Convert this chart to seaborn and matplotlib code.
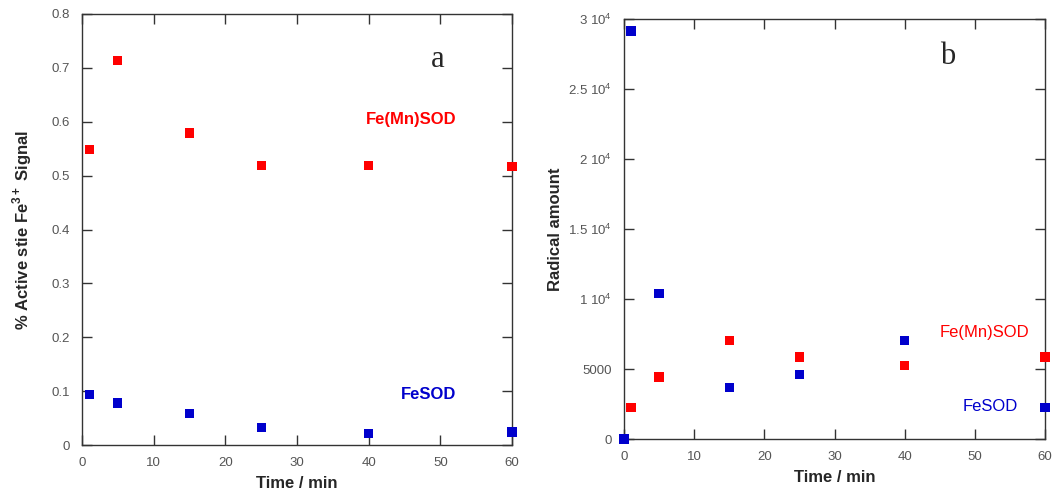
import numpy as np
import pandas as pd
import matplotlib
matplotlib.use("Agg")
import matplotlib.pyplot as plt
from matplotlib.ticker import FixedLocator, FixedFormatter
import seaborn as sns

# Panel a: active-site Fe3+ EPR signal vs time
time_a = [1, 5, 15, 25, 40, 60]
fe_mn_sod_a = [0.548, 0.714, 0.579, 0.519, 0.519, 0.517]
fe_sod_a = [0.094, 0.078, 0.058, 0.033, 0.022, 0.024]

# Panel b: radical amount vs time
time_b_fe = [0, 1, 5, 15, 25, 40, 60]
fe_sod_b = [0, 29150, 10420, 3660, 4590, 7040, 2240]
time_b_femn = [1, 5, 15, 25, 40, 60]
fe_mn_sod_b = [2240, 4430, 7040, 5850, 5260, 5850]

x_ticks = [0, 10, 20, 30, 40, 50, 60]
y_ticks_a = [0, 0.1, 0.2, 0.3, 0.4, 0.5, 0.6, 0.7, 0.8]
y_ticks_b = [0, 5000, 10000, 15000, 20000, 25000, 30000]
y_labels_b = ["0", "5000", "1 10$^{4}$", "1.5 10$^{4}$", "2 10$^{4}$",
              "2.5 10$^{4}$", "3 10$^{4}$"]

RED = "#ff0000"
BLUE = "#0000cc"

sns.set_theme(style="white")
plt.rcParams["font.family"] = ["Liberation Sans", "DejaVu Sans"]
plt.rcParams["mathtext.fontset"] = "custom"
plt.rcParams["mathtext.rm"] = "Liberation Sans"
plt.rcParams["mathtext.bf"] = "Liberation Sans:bold"

fig = plt.figure(figsize=(10.57, 4.92), dpi=100)
ax_a = fig.add_axes([82 / 1057, 47 / 492, 430 / 1057, 431 / 492])
ax_b = fig.add_axes([624 / 1057, 53 / 492, 421 / 1057, 420 / 492])

df_a = pd.concat([
    pd.DataFrame({"time": time_a, "value": fe_mn_sod_a, "enzyme": "Fe(Mn)SOD"}),
    pd.DataFrame({"time": time_a, "value": fe_sod_a, "enzyme": "FeSOD"}),
])
df_b = pd.concat([
    pd.DataFrame({"time": time_b_femn, "value": fe_mn_sod_b, "enzyme": "Fe(Mn)SOD"}),
    pd.DataFrame({"time": time_b_fe, "value": fe_sod_b, "enzyme": "FeSOD"}),
])
palette = {"Fe(Mn)SOD": RED, "FeSOD": BLUE}

for ax, df in ((ax_a, df_a), (ax_b, df_b)):
    sns.scatterplot(data=df, x="time", y="value", hue="enzyme", palette=palette,
                    marker="s", s=44, linewidth=0, legend=False, ax=ax,
                    clip_on=False, zorder=3)

tick_color = "#555555"
spine_color = "#333333"
for ax in (ax_a, ax_b):
    ax.set_xlim(0, 60)
    ax.xaxis.set_major_locator(FixedLocator(x_ticks))
    ax.tick_params(direction="in", length=7, width=1, color=spine_color,
                   top=True, right=True, bottom=True, left=True,
                   labelsize=9.5, labelcolor=tick_color, pad=9)
    for sp in ax.spines.values():
        sp.set_color(spine_color)
        sp.set_linewidth(1.0)
    ax.set_xlabel("Time / min", fontsize=12, fontweight="bold", labelpad=5)

ax_a.set_ylim(0, 0.8)
ax_a.yaxis.set_major_locator(FixedLocator(y_ticks_a))
ax_a.yaxis.set_major_formatter(FixedFormatter(["0"] + [f"{v:.1f}" for v in y_ticks_a[1:]]))
ax_a.set_ylabel("% Active stie Fe$^{\\mathbf{3+}}$ Signal", fontsize=12,
                fontweight="bold", labelpad=12)

ax_b.set_ylim(0, 30000)
ax_b.yaxis.set_major_locator(FixedLocator(y_ticks_b))
ax_b.yaxis.set_major_formatter(FixedFormatter(y_labels_b))
ax_b.set_ylabel("Radical amount", fontsize=12, fontweight="bold", labelpad=3)

# Panel letters and series labels
ax_a.text(49.7, 0.715, "a", fontsize=22, family="Liberation Serif",
          ha="center", va="center")
ax_a.text(46.0, 0.605, "Fe(Mn)SOD", color=RED, fontsize=12,
          fontweight="bold", ha="center", va="center")
ax_a.text(48.3, 0.094, "FeSOD", color=BLUE, fontsize=12,
          fontweight="bold", ha="center", va="center")

ax_b.text(46.2, 27300, "b", fontsize=22, family="Liberation Serif",
          ha="center", va="center")
ax_b.text(51.3, 7640, "Fe(Mn)SOD", color=RED, fontsize=12,
          ha="center", va="center")
ax_b.text(52.2, 2290, "FeSOD", color=BLUE, fontsize=12,
          ha="center", va="center")

fig.savefig("out.png", dpi=100, facecolor="white")
